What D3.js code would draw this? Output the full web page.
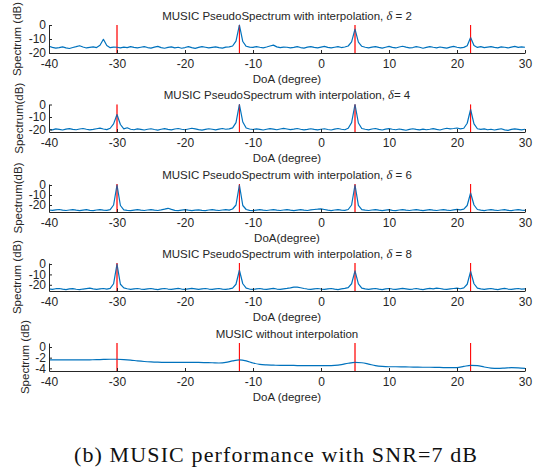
<!DOCTYPE html>
<html>
<head>
<meta charset="utf-8">
<script src="https://cdn.jsdelivr.net/npm/d3@7"></script>
<style>
  body { margin: 0; background: #fff; }
  svg { display: block; }
</style>
</head>
<body>
<svg id="chart" width="547" height="468"></svg>
<script>
// DoA grids (degree)
const doaFine = d3.range(-40, 30.001, 0.5);   // 141 points
const doaCoarse = d3.range(-40, 30.001, 1);   // 71 points
const trueDoa = [-30, -12, 5, 22];
const xTicks = [-40, -30, -20, -10, 0, 10, 20, 30];

// Pseudo spectrum, delta = 2 (one row = 5 degrees)
const specDelta2 = [
  -15.2, -16.0, -16.5, -16.2, -15.6, -16.3, -16.8, -16.1, -15.5, -14.8,
  -15.7, -16.4, -16.0, -15.6, -16.1, -14.5, -10.2, -14.6, -16.2, -15.8,
  -15.9, -16.3, -15.8, -16.2, -15.5, -16.0, -16.4, -15.9, -15.4, -16.1,
  -16.5, -15.8, -15.3, -16.2, -16.6, -16.0, -15.6, -16.3, -15.9, -16.6,
  -16.1, -15.5, -16.2, -16.7, -16.0, -15.4, -15.9, -16.4, -16.0, -15.6,
  -16.2, -16.5, -15.8, -15.6, -15.0, -11.5,   0.0, -11.8, -15.2, -15.8,
  -16.0, -15.4, -15.9, -16.3, -15.7, -15.0, -14.4, -15.6, -16.2, -15.8,
  -15.9, -16.4, -16.0, -15.5, -16.1, -16.5, -15.8, -15.4, -16.0, -16.3,
  -15.8, -15.3, -16.0, -16.4, -15.9, -15.5, -16.1, -15.7, -15.0, -12.0,
   -3.0, -12.3, -15.2, -15.9, -16.3, -15.8, -15.4, -16.0, -16.5, -15.9,
  -15.3, -16.0, -16.4, -15.7, -15.2, -15.8, -16.3, -16.1, -15.5, -15.9,
  -16.6, -16.0, -15.4, -15.9, -16.3, -15.7, -16.1, -16.5, -15.8, -15.3,
  -15.9, -16.4, -16.0, -14.8,  -9.0, -14.6, -16.0, -15.5, -16.2, -15.8,
  -15.4, -16.0, -16.3, -15.6, -15.9, -16.4, -15.8, -15.3, -16.0, -15.6,
  -15.9
];

// delta = 4
const specDelta4 = [
  -19.8, -20.3, -19.5, -19.9, -20.4, -19.7, -19.3, -19.9, -20.2, -19.6,
  -19.2, -19.8, -20.3, -19.9, -19.4, -18.9, -19.6, -20.1, -19.0, -15.5,
   -8.0, -16.0, -19.5, -18.6, -19.8, -20.2, -19.5, -19.9, -20.4, -19.8,
  -19.4, -20.0, -20.5, -19.8, -19.3, -19.9, -20.3, -19.6, -19.2, -19.8,
  -20.2, -19.6, -19.0, -19.5, -20.1, -20.5, -19.9, -19.4, -19.8, -20.3,
  -19.7, -19.2, -19.8, -19.5, -18.7, -14.5,   0.0, -14.0, -18.8, -19.6,
  -20.0, -19.5, -19.9, -20.4, -19.8, -19.3, -19.7, -20.2, -19.6, -19.1,
  -19.6, -20.1, -19.7, -19.2, -19.8, -20.3, -19.9, -19.4, -19.9, -20.3,
  -19.8, -19.4, -20.0, -20.4, -19.7, -19.2, -19.8, -20.2, -19.0, -14.5,
    0.0, -14.8, -19.2, -19.8, -20.3, -19.6, -19.2, -19.9, -20.4, -19.7,
  -19.3, -19.8, -20.2, -19.6, -20.1, -20.6, -19.9, -19.4, -19.9, -20.3,
  -19.7, -20.2, -19.8, -19.3, -19.9, -20.4, -19.6, -19.0, -19.5, -19.2,
  -18.8, -19.5, -19.0, -15.0,  -4.0, -15.5, -19.4, -19.9, -19.5, -20.2,
  -19.8, -20.4, -19.9, -19.4, -20.3, -20.7, -19.9, -19.5, -19.9, -20.3,
  -19.8
];

// delta = 6
const specDelta6 = [
  -25.0, -25.4, -24.8, -24.5, -25.1, -25.5, -25.0, -24.6, -25.2, -25.6,
  -25.1, -24.7, -25.3, -25.6, -25.0, -24.6, -25.1, -25.4, -24.6, -20.0,
    0.0, -20.5, -24.8, -25.3, -25.6, -25.1, -24.7, -25.2, -25.5, -25.0,
  -24.6, -25.2, -25.5, -24.9, -24.2, -23.3, -24.4, -25.3, -25.6, -25.1,
  -24.7, -25.2, -25.6, -25.1, -24.8, -25.3, -25.6, -25.0, -24.6, -25.2,
  -25.5, -25.0, -24.6, -25.1, -24.0, -20.0,   0.0, -20.5, -24.5, -25.3,
  -25.6, -25.1, -24.7, -25.2, -25.5, -25.0, -24.6, -25.1, -25.5, -25.0,
  -24.6, -25.2, -25.6, -25.1, -24.7, -25.2, -25.5, -24.9, -24.5, -24.2,
  -23.8, -24.5, -25.2, -25.6, -25.0, -24.6, -25.1, -25.4, -24.5, -20.0,
    0.0, -20.3, -24.6, -25.2, -25.5, -25.0, -24.6, -25.2, -25.6, -25.1,
  -24.7, -25.3, -25.6, -25.0, -24.6, -25.1, -25.5, -25.0, -24.6, -25.2,
  -25.6, -25.1, -24.7, -25.2, -25.5, -25.0, -24.6, -25.1, -25.5, -24.8,
  -24.3, -24.8, -24.2, -20.5,  -8.0, -20.0, -24.5, -25.2, -25.6, -25.0,
  -24.6, -25.2, -25.5, -25.0, -24.7, -25.3, -25.6, -25.0, -24.6, -25.1,
  -25.3
];

// delta = 8
const specDelta8 = [
  -24.0, -24.4, -23.8, -23.6, -24.2, -24.6, -24.0, -23.7, -24.3, -24.6,
  -24.1, -23.7, -23.3, -23.9, -24.4, -24.0, -23.6, -24.2, -23.5, -19.0,
    0.0, -19.5, -23.0, -23.8, -24.4, -24.0, -23.6, -24.1, -24.5, -24.0,
  -23.6, -24.2, -24.6, -24.0, -23.6, -24.1, -24.5, -24.0, -23.5, -24.1,
  -24.5, -24.0, -23.5, -23.9, -24.4, -24.0, -23.6, -24.1, -24.5, -24.0,
  -23.6, -24.2, -24.5, -24.0, -23.2, -19.5,  -6.0, -19.0, -23.3, -24.1,
  -24.5, -24.0, -23.6, -24.2, -24.5, -24.0, -23.5, -24.1, -24.5, -23.9,
  -23.5, -23.0, -22.3, -22.2, -22.9, -23.6, -24.1, -24.5, -24.0, -23.6,
  -24.1, -24.5, -24.0, -23.6, -24.2, -24.6, -24.0, -23.5, -22.8, -19.0,
   -6.5, -19.2, -23.2, -24.0, -24.5, -24.0, -23.6, -24.2, -24.6, -24.0,
  -23.6, -24.1, -24.5, -24.0, -23.5, -24.0, -24.5, -24.1, -23.6, -24.2,
  -24.6, -24.0, -23.5, -23.9, -23.2, -23.6, -24.2, -24.5, -24.0, -23.6,
  -23.2, -23.8, -23.0, -19.5,  -7.0, -19.0, -23.3, -24.0, -24.5, -24.0,
  -23.6, -24.2, -24.6, -24.0, -23.5, -24.1, -24.5, -24.0, -23.6, -24.2,
  -24.0
];

// no interpolation, 1 degree step (one row = 10 degrees)
const specNoInterp = [
  -2.40, -2.40, -2.42, -2.43, -2.43, -2.42, -2.40, -2.37, -2.33, -2.30,
  -2.30, -2.35, -2.45, -2.60, -2.72, -2.80, -2.85, -2.88, -2.90, -2.90,
  -2.90, -2.90, -2.90, -2.92, -2.95, -3.00, -2.90, -2.60, -2.40, -2.60,
  -3.00, -3.25, -3.35, -3.40, -3.45, -3.45, -3.45, -3.50, -3.50, -3.50,
  -3.50, -3.50, -3.45, -3.30, -3.05, -2.90, -2.95, -3.20, -3.50, -3.65,
  -3.70, -3.70, -3.72, -3.75, -3.78, -3.80, -3.80, -3.82, -3.85, -3.88,
  -3.85, -3.65, -3.45, -3.50, -3.75, -3.95, -4.00, -3.95, -3.88, -3.90,
  -4.00
];

const panels = [
  { title: ["MUSIC PseudoSpectrum with interpolation, ", "δ", " = 2"], ylabel: "Spectrum (dB)", xlabel: "DoA (degree)",
    doa: doaFine, spec: specDelta2, yDomain: [-20, 0], yTicks: [0, -10, -20], top: 25, bottom: 53, ylabX: 21 },
  { title: ["MUSIC PseudoSpectrum with interpolation, ", "δ", "= 4"], ylabel: "Spectrum(dB)", xlabel: "DoA (degree)",
    doa: doaFine, spec: specDelta4, yDomain: [-22, 0], yTicks: [0, -10, -20], top: 104.5, bottom: 132, ylabX: 23 },
  { title: ["MUSIC PseudoSpectrum with interpolation, ", "δ", " = 6"], ylabel: "Spectrum(dB)", xlabel: "DoA(degree)",
    doa: doaFine, spec: specDelta6, yDomain: [-27, 1], yTicks: [0, -10, -20], top: 184, bottom: 212, ylabX: 22 },
  { title: ["MUSIC PseudoSpectrum with interpolation, ", "δ", " = 8"], ylabel: "Spectrum (dB)", xlabel: "DoA (degree)",
    doa: doaFine, spec: specDelta8, yDomain: [-26, 1], yTicks: [0, -10, -20], top: 263, bottom: 291, ylabX: 21 },
  { title: ["MUSIC without interpolation"], ylabel: "Spectrum (dB)", xlabel: "DoA (degree)",
    doa: doaCoarse, spec: specNoInterp, yDomain: [-4.5, 0.75], yTicks: [0, -2, -4], top: 343, bottom: 371, ylabX: 29, smooth: true }
];

const svg = d3.select("#chart");
svg.append("rect").attr("width", 547).attr("height", 468).attr("fill", "#fff");

const axisColor = "#262626";
const font = "'Liberation Sans', Arial, Helvetica, sans-serif";
const x = d3.scaleLinear().domain([-40, 30]).range([49, 525]);

panels.forEach(function(p) {
  const y = d3.scaleLinear().domain(p.yDomain).range([p.bottom, p.top]);
  const g = svg.append("g");

  // red lines at the true DoAs
  g.selectAll("line.truth")
    .data(trueDoa)
    .enter()
    .append("line")
      .attr("class", "truth")
      .attr("x1", d => x(d)).attr("x2", d => x(d))
      .attr("y1", y(p.yDomain[1])).attr("y2", p.bottom)
      .attr("stroke", "#ff0000")
      .attr("stroke-width", 1);

  // spectrum
  const line = d3.line()
    .x((d, i) => x(p.doa[i]))
    .y(d => y(d))
    .curve(p.smooth ? d3.curveMonotoneX : d3.curveLinear);
  g.append("path")
    .datum(p.spec)
    .attr("d", line)
    .attr("fill", "none")
    .attr("stroke", "#0072BD")
    .attr("stroke-width", 1.2)
    .attr("stroke-linejoin", "round");

  // red again, thin and translucent, so it reads over the peaks
  g.selectAll("line.truth2")
    .data(trueDoa)
    .enter()
    .append("line")
      .attr("x1", d => x(d)).attr("x2", d => x(d))
      .attr("y1", y(p.yDomain[1])).attr("y2", p.bottom)
      .attr("stroke", "#ff0000")
      .attr("stroke-opacity", 0.45)
      .attr("stroke-width", 1);

  // axes
  const xAxis = g.append("g")
    .attr("transform", "translate(0," + p.bottom + ")")
    .call(d3.axisBottom(x).tickValues(xTicks).tickFormat(d => String(d))
      .tickSize(-3).tickSizeOuter(0).tickPadding(6));
  const yAxis = g.append("g")
    .attr("transform", "translate(49,0)")
    .call(d3.axisLeft(y).tickValues(p.yTicks).tickFormat(d => String(d))
      .tickSize(-3).tickSizeOuter(0).tickPadding(3));
  [xAxis, yAxis].forEach(function(a) {
    a.select(".domain").attr("stroke", axisColor);
    a.selectAll(".tick line").attr("stroke", axisColor);
    a.selectAll(".tick text")
      .attr("fill", axisColor)
      .style("font-family", font)
      .style("font-size", "12px");
  });

  // title
  const t = g.append("text")
    .attr("x", 287).attr("y", p.top - 5.5)
    .attr("text-anchor", "middle")
    .attr("fill", axisColor)
    .style("font-family", font)
    .style("font-size", "11.5px");
  p.title.forEach(function(part, i) {
    const s = t.append("tspan").text(part);
    if (i === 1) s.style("font-style", "italic").style("font-family", "'Liberation Serif', serif").style("font-size", "12.5px");
  });

  // x label
  g.append("text")
    .attr("x", 287).attr("y", p.bottom + 30)
    .attr("text-anchor", "middle")
    .attr("fill", axisColor)
    .style("font-family", font)
    .style("font-size", "11.5px")
    .text(p.xlabel);

  // y label
  const cy = (p.top + p.bottom) / 2;
  g.append("text")
    .attr("transform", "translate(" + p.ylabX + "," + cy + ") rotate(-90)")
    .attr("text-anchor", "middle")
    .attr("fill", axisColor)
    .style("font-family", font)
    .style("font-size", "11.5px")
    .text(p.ylabel);
});

// caption
svg.append("text")
  .attr("x", 275.5).attr("y", 462)
  .attr("text-anchor", "middle")
  .attr("fill", "#111")
  .attr("textLength", 403)
  .attr("lengthAdjust", "spacing")
  .style("font-family", "'Liberation Serif', 'Times New Roman', serif")
  .style("font-size", "22px")
  .text("(b) MUSIC performance with SNR=7 dB");
</script>
</body>
</html>
